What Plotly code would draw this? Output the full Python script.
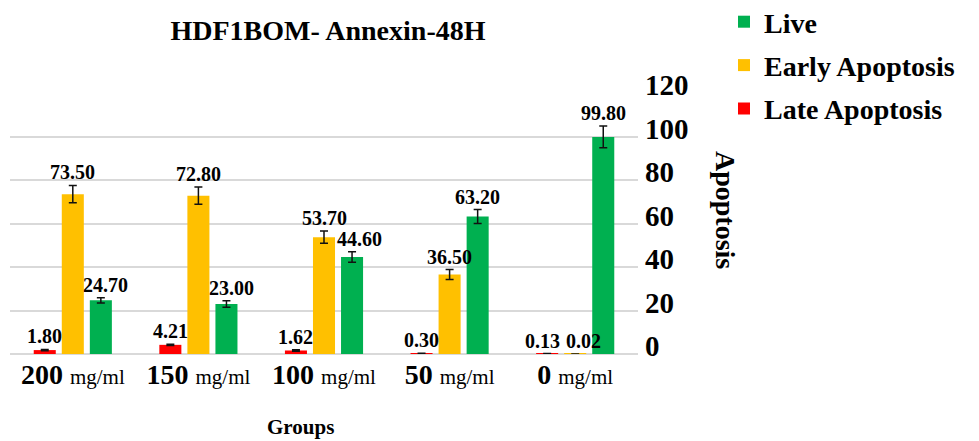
import plotly.graph_objects as go

# ---- data ----
groups = ["200", "150", "100", "50", "0"]
unit = "mg/ml"
late = [1.80, 4.21, 1.62, 0.30, 0.13]
early = [73.50, 72.80, 53.70, 36.50, 0.02]
live = [24.70, 23.00, 44.60, 63.20, 99.80]
late_err = [0.3, 0.3, 0.3, 0.1, 0.05]
early_err = [4.0, 4.0, 2.8, 2.3, 0.0]
live_err = [1.2, 1.5, 2.4, 3.2, 5.0]
series_names = ["Late Apoptosis", "Early Apoptosis", "Live"]
colors = ["#FF0000", "#FFC000", "#00B050"]
legend_ranks = [3, 2, 1]
y_ticks = [0, 20, 40, 60, 80, 100, 120]

FONT = "Liberation Serif, Times New Roman, serif"
OFF = 8                      # page body margin of the html page
W, H = 979 - OFF, 441 - OFF
# plot area in screen pixels: x 10..638, y 93..354
PL, PR, PT, PB = 10, 638, 93, 354
ML, MR, MT, MB = PL - OFF, W - (PR - OFF), PT - OFF, H - (PB - OFF)
plot_w, plot_h = PR - PL, PB - PT
BARGAP, GROUPGAP = 0.33, 0.214


def px_x(sx):
    return (sx - PL) / plot_w


def px_y(sy):
    return (PB - sy) / plot_h


categories = [f"{g} {unit}" for g in groups]
values = [late, early, live]
errors = [late_err, early_err, live_err]

fig = go.Figure()
for name, col, rank, vals, errs in zip(series_names, colors, legend_ranks, values, errors):
    fig.add_trace(go.Bar(
        x=categories, y=vals, name=name, legendgroup=name, legendrank=rank,
        marker=dict(color=col, line=dict(width=0)),
        error_y=dict(type="data", array=errs, visible=True,
                     color="#111111", thickness=1.5, width=4),
        hoverinfo="skip",
    ))

# data labels above error bars
slot = plot_w / len(groups) * (1 - BARGAP) / len(series_names)
nudge = {(0, 4): -5, (1, 4): 8, (2, 2): 7, (2, 0): 5, (2, 1): 5}
annotations = []
for si, (vals, errs) in enumerate(zip(values, errors)):
    for gi, (c, v, e) in enumerate(zip(categories, vals, errs)):
        annotations.append(dict(
            x=c, y=v + e, xref="x", yref="y",
            text=f"<b>{v:.2f}</b>", showarrow=False,
            xshift=(si - 1) * slot + nudge.get((si, gi), 0),
            yanchor="bottom", yshift=0,
            font=dict(family=FONT, size=20, color="#000000"),
        ))

# axis titles as annotations
annotations.append(dict(
    text="<b>Apoptosis</b>", textangle=90, showarrow=False,
    xref="paper", yref="paper", x=px_x(726), y=px_y(210),
    xanchor="center", yanchor="middle",
    font=dict(family=FONT, size=28, color="#000000"),
))
annotations.append(dict(
    text="<b>Groups</b>", showarrow=False,
    xref="paper", yref="paper", x=px_x(300), y=px_y(427),
    xanchor="center", yanchor="middle",
    font=dict(family=FONT, size=21, color="#000000"),
))

ticktext = [f"<b>{g}</b> <span style='font-size:21px'>{unit}</span>" for g in groups]

fig.update_layout(
    width=W, height=H,
    margin=dict(l=ML, r=MR, t=MT, b=MB, autoexpand=False),
    paper_bgcolor="white", plot_bgcolor="white",
    barmode="group", bargap=BARGAP, bargroupgap=GROUPGAP,
    title=dict(text="<b>HDF1BOM- Annexin-48H</b>", x=px_x(328), xref="paper",
               xanchor="center", y=1 - (30 - OFF) / H, yref="container", yanchor="middle",
               font=dict(family=FONT, size=28, color="#000000")),
    legend=dict(x=px_x(724), xanchor="left", y=px_y(-3), yanchor="top",
                traceorder="grouped", tracegroupgap=4,
                font=dict(family=FONT, size=28, color="#000000", weight="bold"),
                bgcolor="rgba(0,0,0,0)"),
    annotations=annotations,
    showlegend=True,
)
fig.update_xaxes(
    type="category", categoryorder="array", categoryarray=categories,
    tickvals=categories, ticktext=ticktext,
    tickfont=dict(family=FONT, size=28, color="#000000"),
    ticks="", ticklabelstandoff=1,
    showgrid=False, showline=False, zeroline=False,
)
fig.update_yaxes(
    side="right", range=[0, 120], tickvals=y_ticks,
    tickfont=dict(family=FONT, size=29, color="#000000", weight="bold"),
    showgrid=True, gridcolor="#D9D9D9", gridwidth=1.5,
    zeroline=True, zerolinecolor="#D9D9D9", zerolinewidth=1.5,
    showline=False, ticks="", ticklabelshift=-8, ticklabelstandoff=6,
)

fig.write_html("out.html")
